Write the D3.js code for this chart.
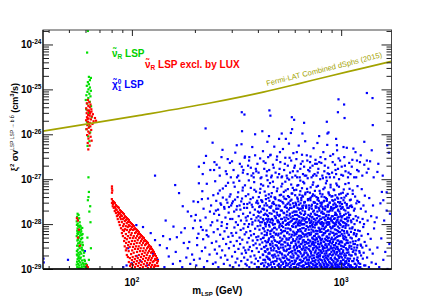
<!DOCTYPE html>
<html>
<head>
<meta charset="utf-8">
<script src="https://cdn.jsdelivr.net/npm/d3@7"></script>
<style>
body{margin:0;background:#fff}
svg{display:block;font-family:"Liberation Sans",Arial,sans-serif}
</style>
</head>
<body>
<svg id="chart" width="436" height="300"></svg>
<script>
// axis ticks
var xMajor = [100, 1000], xExp = ['2', '3'];
var xMinor = [40,50,60,70,80,90,200,300,400,500,600,700,800,900];
var yMajor = [1e-29,1e-28,1e-27,1e-26,1e-25,1e-24], yExp = ['-29','-28','-27','-26','-25','-24'];

// Fermi-LAT combined dSphs limit (2015)
var fermiMass = [37.6, 61.6, 109, 236, 424, 615, 885, 1274, 1755];
var fermiSv = [1.17e-26, 1.7e-26, 2.64e-26, 4.97e-26, 8.7e-26, 1.31e-25, 1.99e-25, 2.97e-25, 4.26e-25];

// sneutrino LSP (allowed)
var greenPts = [[61.6,2.0e-24],[61.1,6.6e-25],
[62.3,1.9e-25],[63.7,1.8e-25],[63.0,1.6e-25],[61.6,1.45e-25],[62.3,1.3e-25],[60.9,1.2e-25],[63.0,1.1e-25],[62.0,1.0e-25],[63.7,9.3e-26],[61.3,8.8e-26],[62.6,8.0e-26],[60.6,7.4e-26],[63.4,7.0e-26],[61.9,6.4e-26],[60.2,5.8e-26],[62.9,5.3e-26],[61.2,4.8e-26],[63.8,4.2e-26],[60.5,3.6e-26],[62.2,3.0e-26],[64.2,2.4e-26],[61.0,1.9e-26],[62.5,1.5e-26],[60.7,1.3e-26],[63.2,1.1e-26],[61.8,9.0e-27],[62.7,7.0e-27],[61.4,5.5e-27],
[62.0,1.1e-27],[62.3,5.2e-28],[62.0,4.0e-28],[61.6,3.4e-28],[63.2,2.5e-28],[62.6,1.9e-28],[63.4,1.1e-28],[61.3,5.0e-29],[63.7,2.9e-29],[62.3,1.6e-29],[60.9,1.2e-29],
[55.0,1.7e-28],[55.6,1.6e-28],[54.7,1.45e-28],[56.0,1.35e-28],[55.3,1.25e-28],[54.5,1.15e-28],[56.3,1.1e-28],
[54.6,9.6e-29],[55.4,9.0e-29],[56.2,8.5e-29],[55.0,8.0e-29],[57.0,7.6e-29],[54.8,7.1e-29],[55.9,6.8e-29],[56.8,6.4e-29],[55.2,6.0e-29],[57.5,5.7e-29],[54.5,5.4e-29],[56.0,5.1e-29],[55.6,4.8e-29],[57.2,4.6e-29],[54.9,4.3e-29],[56.5,4.1e-29],[58.0,3.9e-29],[55.3,3.7e-29],[56.9,3.5e-29],[54.7,3.3e-29],[55.8,3.2e-29],[57.6,3.0e-29],[56.3,2.9e-29],[55.1,2.7e-29],[58.4,2.6e-29],[54.6,2.5e-29],[56.7,2.4e-29],[55.5,2.3e-29],[57.3,2.2e-29],[56.1,2.1e-29],[54.9,2.0e-29],[58.8,1.95e-29],[55.7,1.9e-29],[57.0,1.8e-29],[56.4,1.7e-29],[55.0,1.65e-29],[59.3,1.6e-29],[57.8,1.55e-29],[55.9,1.5e-29],[54.7,1.45e-29],[56.6,1.4e-29],[58.2,1.35e-29],[55.3,1.3e-29],[57.4,1.25e-29],[56.0,1.2e-29],[59.0,1.15e-29],[54.8,1.1e-29],[55.8,1.07e-29],[57.1,1.04e-29],[58.6,1.02e-29],[56.3,1.0e-29],[60.0,1.1e-29],[60.4,1.3e-29],[59.6,1.5e-29],[60.8,1.2e-29],[61.2,1.05e-29],[55.4,6.5e-29],[56.6,5.6e-29],[54.9,6.2e-29],[57.9,4.9e-29],[55.2,4.5e-29],[58.3,3.4e-29],[56.1,3.8e-29],[57.7,2.7e-29],[54.6,2.1e-29],[59.1,2.3e-29],[55.6,1.75e-29],[58.9,1.3e-29],[57.6,1.12e-29],[54.5,1.25e-29],[56.9,8.9e-29],[55.7,7.4e-29],[57.3,6.9e-29],[58.1,6.0e-29],[56.4,9.3e-29],[55.1,1.02e-28],[57.9,8.2e-29]];

// sneutrino LSP excluded by LUX: Higgs funnel
var redFunnel = [[61.6,5.8e-26],[62.6,5.2e-26],[60.9,4.9e-26],[63.4,4.6e-26],[61.9,4.3e-26],[62.9,4.0e-26],[60.5,3.8e-26],[64.0,3.6e-26],[61.3,3.4e-26],[62.3,3.3e-26],[63.2,3.1e-26],[60.8,2.95e-26],[65.1,2.8e-26],[61.8,2.7e-26],[62.8,2.6e-26],[64.4,2.5e-26],[61.0,2.4e-26],[66.6,2.3e-26],[62.1,2.25e-26],[63.7,2.15e-26],[60.4,2.05e-26],[65.6,1.95e-26],[61.6,1.9e-26],[62.9,1.8e-26],[64.8,1.7e-26],[61.2,1.6e-26],[63.3,1.5e-26],[67.4,2.0e-26],[62.2,1.4e-26],[60.7,1.3e-26],[63.9,1.25e-26],[61.9,1.15e-26],[62.7,1.05e-26],[61.1,9.6e-27],[63.5,8.8e-27],[62.0,8.0e-27],[64.2,7.2e-27],[61.5,6.4e-27],[62.8,5.6e-27],[61.9,4.6e-27],[62.4,3.4e-26],[63.0,2.9e-26],[61.4,2.2e-26],[62.5,1.7e-26],[64.1,3.2e-26],
[54.6,1.35e-28],[55.2,1.2e-28],[55.8,7.5e-29],[55.2,5.0e-29],[56.4,3.3e-29],[60.9,1.2e-29],[61.6,1.1e-29]];

// sneutrino LSP excluded by LUX: WW region
var redWW = [[80.3,6.9e-28],[80.3,6.2e-28],[80.6,5.6e-28],[80.3,5.0e-28],
[80.2,3.6e-28],[80.3,2.95e-28],[81.1,3.25e-28],[81.0,2.5e-28],[81.2,2.8e-28],[82.0,3.1e-28],[81.9,2.3e-28],
[82.9,2.95e-28],[83.0,2.4e-28],[82.8,1.95e-28],[83.8,2.65e-28],[83.9,1.76e-28],[83.7,2.15e-28],
[84.7,2.5e-28],[84.6,2.05e-28],[84.8,1.5e-28],[85.7,2.4e-28],[85.8,1.85e-28],[85.6,1.29e-28],[85.7,1.58e-28],
[86.6,2.3e-28],[86.5,1.67e-28],[86.7,1.11e-28],[87.6,2.05e-28],[87.7,1.43e-28],[87.5,9.5e-29],[87.6,1.76e-28],
[88.6,1.95e-28],[88.5,1.29e-28],[88.7,8.1e-29],[88.6,1.58e-28],[89.6,1.85e-28],[89.7,1.5e-28],[89.5,1.11e-28],[89.6,6.3e-29],
[90.6,1.76e-28],[90.5,1.29e-28],[90.7,9.0e-29],[90.6,5.4e-29],[90.4,7.4e-29],[91.6,1.67e-28],[91.7,1.36e-28],[91.5,1.0e-28],[91.6,7.0e-29],[91.8,4.2e-29],
[92.6,1.5e-28],[92.5,1.17e-28],[92.7,7.7e-29],[92.6,4.9e-29],[92.4,3.2e-29],[93.6,1.43e-28],[93.7,1.23e-28],[93.5,9.0e-29],[93.6,6.0e-29],[93.8,3.8e-29],[93.6,2.6e-29],
[94.6,1.36e-28],[94.5,1.05e-28],[94.7,7.4e-29],[94.6,4.6e-29],[94.4,2.9e-29],[94.6,2.05e-29],[95.7,1.29e-28],[95.8,1.11e-28],[95.6,8.6e-29],[95.7,5.4e-29],[95.9,3.4e-29],[95.7,1.85e-29],
[96.7,1.23e-28],[96.6,9.5e-29],[96.8,6.6e-29],[96.7,4.0e-29],[96.5,2.5e-29],[96.7,1.43e-29],[97.8,1.11e-28],[97.7,9.0e-29],[97.9,7.4e-29],[97.8,4.9e-29],[97.6,3.1e-29],[97.8,1.75e-29],[98.0,1.17e-29],
[98.9,1.05e-28],[99.0,7.7e-29],[98.8,5.7e-29],[98.9,3.6e-29],[99.1,2.15e-29],[98.9,1.29e-29],[100,1.0e-28],[100.2,8.6e-29],[99.8,6.3e-29],[100,4.2e-29],[100.3,2.6e-29],[100,1.58e-29],[99.9,1.05e-29],
[101.1,9.5e-29],[101.3,7.4e-29],[101,4.9e-29],[101.2,3.1e-29],[100.9,1.85e-29],[101.1,1.23e-29],[102.2,9.0e-29],[102.4,7.7e-29],[102.1,5.4e-29],[102.3,3.6e-29],[102,2.3e-29],[102.2,1.43e-29],
[103.4,8.1e-29],[103.6,6.3e-29],[103.2,4.2e-29],[103.5,2.8e-29],[103.3,1.67e-29],[103.4,1.11e-29],[104.5,7.7e-29],[104.7,6.6e-29],[104.3,4.9e-29],[104.6,3.2e-29],[104.4,1.94e-29],[104.5,1.29e-29],
[105.7,7.4e-29],[105.9,5.4e-29],[105.5,3.8e-29],[105.8,2.4e-29],[105.6,1.5e-29],[106.8,7.0e-29],[107,6.0e-29],[106.6,4.4e-29],[106.9,2.8e-29],[106.7,1.75e-29],[106.8,1.17e-29],
[108,6.6e-29],[108.2,4.9e-29],[107.8,3.2e-29],[108.1,2.05e-29],[107.9,1.36e-29],[109.2,6.0e-29],[109.4,5.1e-29],[109,3.8e-29],[109.3,2.5e-29],[109.1,1.58e-29],[109.2,1.05e-29],
[110.4,5.7e-29],[110.6,4.2e-29],[110.2,2.9e-29],[110.5,1.85e-29],[110.3,1.23e-29],[111.6,5.4e-29],[111.8,4.6e-29],[111.4,3.4e-29],[111.7,2.15e-29],[111.5,1.43e-29],
[112.9,5.1e-29],[113.1,3.8e-29],[112.7,2.5e-29],[113,1.67e-29],[112.8,1.11e-29],[114.1,4.9e-29],[114.3,4.2e-29],[113.9,2.9e-29],[114.2,1.94e-29],[114,1.29e-29],
[115.4,4.4e-29],[115.6,3.4e-29],[115.2,2.3e-29],[115.5,1.5e-29],[116.7,4.2e-29],[116.9,3.6e-29],[116.5,2.6e-29],[116.8,1.75e-29],[116.6,1.17e-29],
[118,4.0e-29],[118.2,2.9e-29],[117.8,2.05e-29],[118.1,1.36e-29],[119.3,3.8e-29],[119.5,3.1e-29],[119.1,2.3e-29],[119.4,1.58e-29],[119.2,1.05e-29],
[120.6,3.4e-29],[120.8,2.5e-29],[120.4,1.75e-29],[120.7,1.23e-29],[121.9,3.2e-29],[122.1,2.8e-29],[121.7,1.94e-29],[122,1.36e-29],
[123.3,3.1e-29],[123.5,2.3e-29],[123.1,1.58e-29],[123.4,1.11e-29],[124.6,2.8e-29],[124.8,2.4e-29],[124.4,1.75e-29],[124.7,1.23e-29],
[126,2.6e-29],[126.2,1.94e-29],[125.8,1.43e-29],[127.4,2.4e-29],[127.6,2.05e-29],[127.2,1.5e-29],[127.5,1.11e-29],
[128.8,2.15e-29],[129,1.67e-29],[128.6,1.23e-29],[130.2,1.94e-29],[130.4,1.58e-29],[130,1.17e-29],[131.7,1.75e-29],[131.9,1.36e-29],[133.1,1.5e-29],[133.3,1.17e-29]];

// neutralino LSP, below ~230 GeV
var blueLow = [[37.8,1.7e-29],[37.9,1.4e-29],[49.5,1.6e-29],[59.6,2.5e-29],[91,1.1e-29],[94.3,1.2e-29],[99.7,1.34e-29],[105.3,1.95e-29],[129,1.2e-27],[161,7.4e-28],[168,4.9e-28],[209,8.1e-28],[221,2.3e-27],[216,3.6e-28],[185,1.9e-28],[200,1.2e-28],[105,9.5e-29],[113,8.6e-29],[123,6.3e-29],[129,4.4e-29],[141,5.4e-29],[152,4.6e-29],[136,3.4e-29],[147,2.9e-29],[164,5.1e-29],[179,8.1e-29],[196,8.1e-29],[218,7.4e-29],[228,5.7e-29],[205,4.9e-29],[177,3.8e-29],[185,2.9e-29],[96,2.9e-29],
[110,1.5e-29],[118,1.2e-29],[126,2.2e-29],[133,1.6e-29],[143,1.1e-29],[150,1.9e-29],[157,1.3e-29],[162,2.4e-29],[170,1.5e-29],[174,1.1e-29],[182,1.8e-29],[190,1.3e-29],[194,2.1e-29],[198,1.6e-29],[188,4.0e-29],[172,6.5e-29],[158,8.8e-29],[145,1.2e-28],[192,1.5e-28],[175,2.5e-28],[197,3.2e-28]];

// neutralino LSP, 1e-29 to 1e-28 cm3/s
var blueBandA = [[203,1.2e-29],[205,3.4e-29],[208,6.1e-29],[211,1.7e-29],[214,8.6e-29],[216,2.5e-29],[219,4.6e-29],[221,1.1e-29],[224,3.0e-29],[227,7.2e-29],[229,1.5e-29],[232,5.3e-29],[235,2.1e-29],[238,9.4e-29],[241,3.8e-29],[244,1.3e-29],[246,6.6e-29],[249,2.7e-29],
[251,1.4e-29],[253,4.1e-29],[255,2.2e-29],[257,7.7e-29],[259,1.1e-29],[262,3.2e-29],[264,5.8e-29],[266,1.8e-29],[268,9.1e-29],[270,2.6e-29],[273,4.7e-29],[275,1.3e-29],[277,6.9e-29],[279,2.0e-29],[282,3.6e-29],[284,8.2e-29],[286,1.6e-29],[289,5.2e-29],[291,2.9e-29],[294,1.2e-29],[296,4.0e-29],[299,6.3e-29],
[301,1.9e-29],[303,5.5e-29],[305,1.1e-29],[307,3.3e-29],[309,8.4e-29],[311,2.4e-29],[313,1.4e-29],[315,6.4e-29],[317,4.2e-29],[319,1.7e-29],[321,9.6e-29],[323,2.8e-29],[325,1.2e-29],[327,5.0e-29],[329,3.6e-29],[331,7.4e-29],[333,1.5e-29],[335,2.2e-29],[337,4.5e-29],[339,1.0e-29],[341,8.0e-29],[342,3.0e-29],[344,1.8e-29],[346,5.9e-29],[348,2.6e-29],[349,1.3e-29],
[351,2.3e-29],[352,6.6e-29],[354,1.2e-29],[356,3.9e-29],[357,1.6e-29],[359,8.7e-29],[361,2.7e-29],[362,4.9e-29],[364,1.1e-29],[366,3.1e-29],[368,7.0e-29],[369,1.9e-29],[371,5.6e-29],[373,1.4e-29],[375,2.5e-29],[376,9.8e-29],[378,4.3e-29],[380,1.0e-29],[381,3.4e-29],[383,6.0e-29],[385,2.0e-29],[386,1.3e-29],[388,7.9e-29],[390,3.7e-29],[391,1.7e-29],[393,5.1e-29],[395,2.9e-29],[396,1.1e-29],[398,4.4e-29],[399,9.0e-29],
[401,1.5e-29],[402,5.3e-29],[404,2.4e-29],[405,1.1e-29],[407,7.5e-29],[408,3.5e-29],[410,1.8e-29],[411,9.3e-29],[413,4.6e-29],[414,1.3e-29],[416,2.8e-29],[417,6.2e-29],[419,1.0e-29],[420,3.9e-29],[422,2.1e-29],[423,8.1e-29],[425,1.6e-29],[426,5.0e-29],[428,3.1e-29],[429,1.2e-29],[431,6.9e-29],[432,2.5e-29],[434,4.2e-29],[435,1.4e-29],[437,9.9e-29],[438,3.3e-29],[440,1.9e-29],[441,5.7e-29],[443,1.1e-29],[444,2.7e-29],[446,7.3e-29],[447,4.0e-29],[448,1.7e-29],[449,2.2e-29],
[451,1.2e-29],[452,4.8e-29],[453,2.3e-29],[455,8.8e-29],[456,1.6e-29],[457,3.6e-29],[459,6.0e-29],[460,1.0e-29],[461,2.9e-29],[463,1.4e-29],[464,7.1e-29],[466,4.1e-29],[467,2.0e-29],[468,1.1e-29],[470,5.4e-29],[471,3.2e-29],[473,9.7e-29],[474,1.8e-29],[475,2.6e-29],[477,6.5e-29],[478,1.3e-29],[480,4.4e-29],[481,2.1e-29],[483,8.3e-29],[484,1.5e-29],[486,3.4e-29],[487,5.8e-29],[489,1.0e-29],[490,2.5e-29],[492,7.6e-29],[494,1.7e-29],[495,4.0e-29],[497,1.2e-29],[499,3.0e-29],
[501,2.0e-29],[502,6.1e-29],[504,1.3e-29],[505,3.8e-29],[507,9.2e-29],[508,2.4e-29],[510,1.1e-29],[511,5.0e-29],[513,1.6e-29],[514,3.0e-29],[516,7.4e-29],[517,1.2e-29],[519,4.3e-29],[520,2.2e-29],[522,1.0e-29],[523,6.6e-29],[525,1.8e-29],[526,3.5e-29],[528,8.6e-29],[529,1.4e-29],[531,2.7e-29],[533,5.5e-29],[534,1.1e-29],[536,4.0e-29],[537,2.0e-29],[539,7.0e-29],[540,1.5e-29],[542,3.2e-29],[544,9.6e-29],[545,1.2e-29],[547,2.5e-29],[548,4.8e-29],[550,1.7e-29],[552,6.3e-29],[553,1.0e-29],[555,3.7e-29],[557,2.1e-29],[558,8.0e-29],[560,1.3e-29],[561,4.5e-29],[563,2.8e-29],[565,1.6e-29],[566,5.9e-29],[568,1.1e-29],[570,3.3e-29],[571,7.8e-29],[573,1.9e-29],[575,2.4e-29],[576,1.2e-29],[578,5.2e-29],[580,3.9e-29],[581,1.5e-29],[583,9.0e-29],[585,2.2e-29],[586,1.0e-29],[588,4.6e-29],[590,6.8e-29],[591,1.8e-29],[593,3.0e-29],[595,1.3e-29],[597,5.6e-29],[599,2.6e-29],
[601,1.4e-29],[603,4.2e-29],[604,2.3e-29],[606,8.5e-29],[608,1.1e-29],[609,3.4e-29],[611,6.0e-29],[613,1.7e-29],[615,2.9e-29],[616,1.0e-29],[618,5.1e-29],[620,2.0e-29],[622,9.4e-29],[623,1.3e-29],[625,3.9e-29],[627,6.9e-29],[628,2.5e-29],[630,1.2e-29],[632,4.7e-29],[634,1.6e-29],[635,3.1e-29],[637,7.7e-29],[639,1.0e-29],[641,2.2e-29],[642,5.5e-29],[644,1.4e-29],[646,3.6e-29],[648,9.8e-29],[649,1.9e-29],[651,2.7e-29],[653,6.4e-29],[655,1.1e-29],[656,4.3e-29],[658,1.5e-29],[660,3.2e-29],[662,8.2e-29],[663,2.1e-29],[665,1.2e-29],[667,5.3e-29],[669,2.6e-29],[670,1.0e-29],[672,4.0e-29],[674,7.1e-29],[676,1.8e-29],[677,3.0e-29],[679,1.3e-29],[681,5.9e-29],[683,2.3e-29],[684,9.1e-29],[686,1.6e-29],[688,3.7e-29],[690,1.1e-29],[691,6.2e-29],[693,2.0e-29],[695,4.5e-29],[697,1.4e-29],[698,2.8e-29],[700,7.5e-29],
[702,1.2e-29],[703,3.3e-29],[705,1.8e-29],[707,5.7e-29],[709,1.0e-29],[711,2.5e-29],[713,8.8e-29],[714,4.1e-29],[716,1.4e-29],[718,2.2e-29],[720,6.5e-29],[722,1.1e-29],[724,3.5e-29],[726,1.7e-29],[727,9.5e-29],[729,4.8e-29],[731,1.3e-29],[733,2.7e-29],[735,7.2e-29],[737,1.0e-29],[739,3.8e-29],[740,2.0e-29],[742,5.4e-29],[744,1.5e-29],[746,3.0e-29],[748,8.4e-29],[750,1.2e-29],[752,4.4e-29],[753,2.4e-29],[755,1.6e-29],[757,6.1e-29],[759,3.2e-29],[761,1.1e-29],[763,9.9e-29],[765,2.1e-29],[766,4.6e-29],[768,1.3e-29],[770,2.9e-29],[772,7.0e-29],[774,1.8e-29],[776,3.6e-29],[778,1.0e-29],[779,5.3e-29],[781,2.3e-29],[783,1.4e-29],[785,8.0e-29],[787,3.1e-29],[789,1.2e-29],[791,4.9e-29],[792,1.9e-29],[794,6.7e-29],[796,2.6e-29],[798,1.1e-29],[799,3.9e-29],
[801,1.6e-29],[803,4.4e-29],[805,2.3e-29],[807,7.9e-29],[809,1.1e-29],[811,3.3e-29],[813,5.6e-29],[815,1.4e-29],[817,2.8e-29],[819,9.0e-29],[821,1.0e-29],[823,4.1e-29],[825,1.9e-29],[827,6.3e-29],[829,1.2e-29],[831,3.0e-29],[833,2.2e-29],[835,8.3e-29],[837,1.5e-29],[839,4.7e-29],[841,1.0e-29],[843,3.6e-29],[845,6.9e-29],[847,1.8e-29],[849,2.5e-29],[851,1.3e-29],[853,5.2e-29],[855,3.2e-29],[857,1.1e-29],[859,9.6e-29],[861,2.0e-29],[863,4.2e-29],[865,1.6e-29],[867,7.3e-29],[869,2.7e-29],[871,1.2e-29],[873,5.0e-29],[875,3.5e-29],[877,1.0e-29],[879,2.1e-29],[881,6.0e-29],[883,1.4e-29],[885,3.9e-29],[887,8.7e-29],[889,1.7e-29],[891,2.9e-29],[894,1.1e-29],[897,4.6e-29],
[901,1.3e-29],[903,3.7e-29],[905,2.0e-29],[908,6.4e-29],[910,1.1e-29],[912,2.6e-29],[915,8.9e-29],[917,4.5e-29],[919,1.5e-29],[922,3.0e-29],[924,1.0e-29],[926,5.6e-29],[929,2.3e-29],[931,1.7e-29],[933,7.6e-29],[936,3.4e-29],[938,1.2e-29],[940,4.9e-29],[943,2.1e-29],[945,9.8e-29],[947,1.4e-29],[950,3.1e-29],[952,6.1e-29],[954,1.0e-29],[957,2.4e-29],[959,4.3e-29],[961,1.6e-29],[964,7.0e-29],[966,2.8e-29],[968,1.2e-29],[971,5.4e-29],[973,3.6e-29],[975,1.9e-29],[978,1.1e-29],[980,8.1e-29],[982,2.5e-29],[985,4.0e-29],[987,1.3e-29],[989,6.7e-29],[992,2.2e-29],[995,1.5e-29],[998,3.3e-29],
[1002,1.4e-29],[1004,4.1e-29],[1007,2.2e-29],[1010,7.3e-29],[1012,1.0e-29],[1015,3.2e-29],[1018,5.5e-29],[1020,1.6e-29],[1023,2.6e-29],[1026,9.0e-29],[1029,1.2e-29],[1031,4.6e-29],[1034,2.0e-29],[1037,6.2e-29],[1040,1.3e-29],[1042,3.5e-29],[1045,1.8e-29],[1048,8.2e-29],[1051,1.1e-29],[1054,2.9e-29],[1056,5.0e-29],[1059,1.5e-29],[1062,3.8e-29],[1065,2.3e-29],[1067,6.9e-29],[1070,1.0e-29],[1073,4.3e-29],[1076,1.7e-29],[1079,2.7e-29],[1082,9.4e-29],[1085,1.3e-29],[1088,5.8e-29],[1092,2.1e-29],[1096,3.3e-29],
[1102,1.2e-29],[1106,3.9e-29],[1110,2.0e-29],[1114,6.7e-29],[1117,1.1e-29],[1121,2.8e-29],[1125,4.8e-29],[1129,1.5e-29],[1133,8.5e-29],[1137,2.4e-29],[1141,1.0e-29],[1145,3.6e-29],[1149,5.9e-29],[1152,1.7e-29],[1156,3.0e-29],[1160,1.3e-29],[1164,7.4e-29],[1168,2.2e-29],[1172,4.2e-29],[1176,1.1e-29],[1180,2.6e-29],[1185,6.0e-29],[1190,1.6e-29],[1196,3.4e-29],
[1203,1.5e-29],[1209,4.4e-29],[1215,1.1e-29],[1221,2.5e-29],[1227,7.0e-29],[1233,1.3e-29],[1239,3.5e-29],[1245,2.0e-29],[1251,5.5e-29],[1257,1.0e-29],[1263,3.0e-29],[1269,1.7e-29],[1275,8.6e-29],[1281,2.3e-29],[1288,1.2e-29],[1295,4.0e-29],
[1305,1.2e-29],[1318,3.3e-29],[1330,1.8e-29],[1344,6.0e-29],[1357,1.1e-29],[1370,2.7e-29],[1384,4.7e-29],[1398,1.4e-29],[1415,2.2e-29],[1436,8.0e-29],
[1465,1.3e-29],[1490,3.0e-29],[1520,1.1e-29],[1555,4.8e-29],[1590,1.6e-29],[1625,2.4e-29],[1665,1.0e-29],[1700,3.6e-29]];

// neutralino LSP, dense core 1e-29 to 1e-28 cm3/s
var blueCoreA = [[421,1.35e-29],[423,4.9e-29],[424,2.05e-29],[427,7.9e-29],[428,1.15e-29],[430,3.05e-29],[431,5.7e-29],[433,1.6e-29],[435,2.4e-29],[436,8.9e-29],[439,1.02e-29],[440,3.9e-29],[442,6.4e-29],[444,1.85e-29],[445,2.8e-29],[448,1.3e-29],[450,4.4e-29],[452,9.5e-29],[453,1.7e-29],[455,2.2e-29],[458,6.9e-29],[459,3.4e-29],[461,1.25e-29],[463,5.2e-29],[464,2.6e-29],[467,1.05e-29],[469,7.6e-29],[470,3.7e-29],[472,1.45e-29],[474,2.0e-29],[476,5.0e-29],[478,8.2e-29],[479,2.9e-29],[482,1.1e-29],[484,4.2e-29],[486,1.9e-29],[488,6.1e-29],[491,1.5e-29],[493,3.3e-29],[496,2.35e-29],
[500,5.6e-29],[502,1.2e-29],[503,2.8e-29],[506,8.4e-29],[507,1.7e-29],[509,4.1e-29],[511,2.3e-29],[512,1.05e-29],[515,6.2e-29],[516,3.5e-29],[518,1.45e-29],[521,9.1e-29],[522,2.1e-29],[524,4.7e-29],[527,1.3e-29],[528,3.0e-29],[530,7.0e-29],[532,1.75e-29],[535,2.55e-29],[537,5.3e-29],[538,1.1e-29],[541,3.9e-29],[543,8.0e-29],[544,1.9e-29],[546,1.35e-29],[549,4.5e-29],[551,2.7e-29],[554,6.6e-29],[555,1.2e-29],[557,3.4e-29],[559,1.6e-29],[562,9.7e-29],[564,2.3e-29],[566,4.9e-29],[569,1.4e-29],[571,2.9e-29],[573,7.3e-29],[574,1.05e-29],[577,3.8e-29],[579,1.8e-29],[582,5.8e-29],[584,2.5e-29],[586,1.3e-29],[589,8.7e-29],[590,4.2e-29],[592,2.0e-29],[594,1.1e-29],[596,3.2e-29],[598,6.4e-29],[599,1.55e-29],
[601,2.7e-29],[602,1.1e-29],[604,5.9e-29],[606,3.7e-29],[607,1.5e-29],[609,8.9e-29],[610,2.2e-29],[612,4.6e-29],[614,1.25e-29],[615,6.6e-29],[617,3.1e-29],[619,1.75e-29],[621,2.5e-29],[622,7.4e-29],[624,1.05e-29],[626,4.1e-29],[627,1.9e-29],[629,5.5e-29],[631,3.3e-29],[633,1.35e-29],[634,9.3e-29],[636,2.4e-29],[638,4.8e-29],[640,1.6e-29],[641,3.6e-29],[643,6.9e-29],[645,1.15e-29],[647,2.8e-29],[648,5.1e-29],[650,1.45e-29],[652,8.1e-29],[654,3.9e-29],[655,2.0e-29],[657,1.2e-29],[659,6.0e-29],[661,2.9e-29],[662,4.4e-29],[664,1.7e-29],[666,9.9e-29],[668,2.3e-29],[669,1.05e-29],[671,3.5e-29],[673,5.8e-29],[675,1.4e-29],[676,2.6e-29],[678,7.7e-29],[680,4.0e-29],[682,1.8e-29],[685,3.0e-29],[687,1.1e-29],[689,5.3e-29],[692,2.1e-29],[694,8.5e-29],[696,1.3e-29],[699,3.8e-29],
[701,1.6e-29],[703,6.3e-29],[704,2.7e-29],[706,1.15e-29],[708,4.3e-29],[710,9.0e-29],[712,1.9e-29],[713,3.2e-29],[715,1.35e-29],[717,5.9e-29],[719,2.4e-29],[721,7.6e-29],[723,1.05e-29],[725,3.7e-29],[727,2.0e-29],[728,5.0e-29],[730,1.5e-29],[732,8.6e-29],[734,2.9e-29],[736,1.2e-29],[738,4.6e-29],[739,6.8e-29],[741,1.75e-29],[743,3.4e-29],[745,1.05e-29],[747,2.3e-29],[749,5.5e-29],[751,9.6e-29],[752,1.4e-29],[754,3.9e-29],[756,2.6e-29],[758,7.1e-29],[760,1.25e-29],[762,4.9e-29],[764,1.85e-29],[767,3.0e-29],[769,1.1e-29],[771,6.1e-29],[773,2.2e-29],[775,4.1e-29],[777,1.55e-29],[780,8.3e-29],[782,2.7e-29],[784,1.0e-29],[786,5.2e-29],[788,3.5e-29],[790,1.65e-29],[792,7.4e-29],[794,2.05e-29],[795,1.3e-29],[797,4.5e-29],[799,2.5e-29],[756,1.15e-29],[733,4.0e-29],[779,1.95e-29],
[802,3.7e-29],[804,1.2e-29],[806,6.7e-29],[808,2.3e-29],[810,1.55e-29],[812,4.7e-29],[814,9.2e-29],[816,1.05e-29],[818,3.1e-29],[820,1.85e-29],[822,5.8e-29],[824,2.5e-29],[826,1.3e-29],[828,7.7e-29],[830,4.0e-29],[832,1.65e-29],[834,2.9e-29],[836,1.1e-29],[838,6.3e-29],[840,3.4e-29],[842,2.0e-29],[844,1.4e-29],[846,8.8e-29],[848,4.4e-29],[850,2.25e-29],[852,1.15e-29],[854,5.3e-29],[856,3.0e-29],[858,1.7e-29],[860,7.0e-29],[862,2.6e-29],[864,1.25e-29],[866,4.8e-29],[868,1.9e-29],[870,3.6e-29],[873,9.8e-29],[875,1.45e-29],[877,5.9e-29],[879,2.7e-29],[882,1.05e-29],[884,4.2e-29],[886,2.15e-29],[888,1.35e-29],[890,6.8e-29],[892,3.2e-29],[894,1.75e-29],[896,8.0e-29],[898,2.4e-29],[899,1.2e-29],[861,1.0e-29],
[902,5.0e-29],[904,1.6e-29],[906,2.9e-29],[909,8.3e-29],[911,1.2e-29],[913,4.0e-29],[915,2.1e-29],[918,6.4e-29],[920,1.4e-29],[922,3.4e-29],[925,1.05e-29],[927,2.5e-29],[929,9.1e-29],[931,4.6e-29],[934,1.8e-29],[936,1.3e-29],[938,6.0e-29],[941,2.8e-29],[943,1.1e-29],[945,3.8e-29],[948,1.65e-29],[950,7.4e-29],[953,2.3e-29],[955,1.25e-29],[957,5.2e-29],[960,3.1e-29],[962,1.5e-29],[965,8.8e-29],[967,2.0e-29],[969,4.3e-29],[972,1.15e-29],[974,2.65e-29],[977,6.6e-29],[979,1.75e-29],[981,3.6e-29],[984,1.05e-29],[986,5.5e-29],[989,2.2e-29],[991,1.35e-29],[994,9.5e-29],[996,4.1e-29],[998,1.9e-29],[932,1.05e-29],[958,1.1e-29],[983,1.3e-29],
[1001,2.8e-29],[1004,1.15e-29],[1006,6.0e-29],[1009,1.8e-29],[1011,3.9e-29],[1014,1.3e-29],[1016,8.6e-29],[1019,2.4e-29],[1022,1.05e-29],[1024,4.9e-29],[1027,1.6e-29],[1030,3.1e-29],[1032,7.0e-29],[1035,1.25e-29],[1038,2.2e-29],[1041,5.3e-29],[1043,1.45e-29],[1046,3.5e-29],[1049,1.1e-29],[1052,9.2e-29],[1055,2.0e-29],[1058,4.4e-29],[1061,1.35e-29],[1064,2.7e-29],[1067,1.05e-29],[1070,6.4e-29],[1073,1.7e-29],[1076,3.8e-29],[1080,1.2e-29],[1083,2.35e-29],[1087,5.7e-29],[1090,1.5e-29],[1094,3.0e-29],[1097,1.1e-29],[1099,8.0e-29],
[1103,1.7e-29],[1108,5.0e-29],[1113,1.2e-29],[1118,3.2e-29],[1123,2.0e-29],[1128,8.0e-29],[1133,1.1e-29],[1138,4.1e-29],[1143,1.5e-29],[1148,2.6e-29],[1153,6.3e-29],[1158,1.05e-29],[1163,3.6e-29],[1168,1.3e-29],[1173,2.1e-29],[1179,5.4e-29],[1185,1.2e-29],[1191,3.0e-29],[1197,1.8e-29],[1204,7.2e-29],[1211,1.35e-29],[1218,4.6e-29],[1226,2.3e-29],[1235,1.1e-29],[1244,3.3e-29]];

// neutralino LSP, 1e-28 to 1e-27 cm3/s
var blueBandB = [[202,1.6e-28],[207,3.1e-28],[212,1.2e-28],[217,5.4e-28],[220,2.2e-28],[225,1.4e-28],[228,7.9e-28],[231,3.7e-28],[236,1.9e-28],[239,2.6e-28],[242,1.1e-28],[245,4.4e-28],[247,1.7e-28],[250,9.0e-28],
[252,2.0e-28],[256,1.2e-28],[258,4.8e-28],[261,1.6e-28],[265,2.9e-28],[269,1.1e-28],[272,6.2e-28],[276,2.4e-28],[280,1.4e-28],[283,3.5e-28],[285,1.0e-28],[288,8.3e-28],[290,1.8e-28],[293,4.1e-28],[295,1.3e-28],[298,2.6e-28],
[302,1.3e-28],[304,3.2e-28],[308,1.9e-28],[310,6.8e-28],[314,1.1e-28],[318,2.5e-28],[320,4.0e-28],[324,1.5e-28],[326,9.2e-28],[330,2.1e-28],[332,1.2e-28],[336,3.7e-28],[338,5.6e-28],[340,1.7e-28],[343,2.8e-28],[345,1.0e-28],[347,7.3e-28],[350,1.4e-28],
[353,1.2e-28],[355,2.3e-28],[358,1.5e-28],[360,4.6e-28],[363,1.0e-28],[365,3.0e-28],[367,1.8e-28],[370,6.4e-28],[372,1.3e-28],[374,2.7e-28],[377,1.1e-28],[379,3.9e-28],[382,1.6e-28],[384,8.6e-28],[387,2.1e-28],[389,1.2e-28],[392,5.3e-28],[394,1.4e-28],[397,3.3e-28],[400,1.9e-28],
[401,2.9e-28],[403,1.2e-28],[406,1.8e-28],[409,5.0e-28],[412,1.4e-28],[415,3.4e-28],[418,1.1e-28],[421,2.2e-28],[424,7.2e-28],[427,1.6e-28],[430,2.6e-28],[433,1.0e-28],[436,4.3e-28],[439,1.3e-28],[442,2.0e-28],[445,9.5e-28],[447,1.5e-28],[449,3.8e-28],[411,6.1e-28],[426,1.2e-28],[434,1.7e-28],[444,1.1e-28],
[450,1.3e-28],[454,2.4e-28],[458,1.1e-28],[462,4.1e-28],[465,1.7e-28],[469,2.9e-28],[472,1.2e-28],[476,6.7e-28],[479,1.9e-28],[482,1.0e-28],[485,3.6e-28],[488,1.4e-28],[491,2.2e-28],[493,5.4e-28],[496,1.6e-28],[498,1.1e-28],[457,8.2e-28],[467,1.3e-28],[474,3.1e-28],[481,1.5e-28],[489,2.6e-28],[495,1.2e-28],
[500,1.2e-28],[503,2.6e-28],[506,1.5e-28],[509,4.4e-28],[512,1.0e-28],[515,2.0e-28],[518,6.9e-28],[521,1.3e-28],[524,3.1e-28],[527,1.1e-28],[530,1.8e-28],[532,5.2e-28],[535,1.4e-28],[538,2.4e-28],[541,8.8e-28],[543,1.2e-28],[546,3.6e-28],[549,1.6e-28],[551,1.0e-28],[554,2.8e-28],[556,6.0e-28],[559,1.3e-28],[562,2.1e-28],[564,4.0e-28],[567,1.1e-28],[569,1.7e-28],[572,3.3e-28],[574,1.4e-28],[577,7.6e-28],[579,2.3e-28],[582,1.2e-28],[584,4.8e-28],[587,1.5e-28],[589,2.9e-28],[592,1.0e-28],[594,1.9e-28],[596,5.7e-28],[598,1.3e-28],
[602,1.6e-28],[605,3.0e-28],[607,1.1e-28],[610,5.8e-28],[612,1.9e-28],[614,1.3e-28],[617,3.9e-28],[619,2.3e-28],[621,1.0e-28],[624,7.4e-28],[626,1.5e-28],[629,2.7e-28],[631,1.2e-28],[633,4.5e-28],[636,1.8e-28],[638,9.3e-28],[640,1.1e-28],[643,2.2e-28],[645,3.4e-28],[647,1.4e-28],[650,6.3e-28],[652,1.0e-28],[654,2.0e-28],[657,4.1e-28],[659,1.3e-28],[661,2.6e-28],[664,1.6e-28],[666,8.1e-28],[668,1.2e-28],[671,3.1e-28],[673,1.7e-28],[675,5.0e-28],[678,1.1e-28],[680,2.4e-28],[685,1.4e-28],[694,3.6e-28],
[701,2.1e-28],[704,1.2e-28],[708,3.7e-28],[710,1.5e-28],[715,6.6e-28],[717,1.1e-28],[721,2.5e-28],[723,1.4e-28],[728,4.2e-28],[730,1.0e-28],[734,1.9e-28],[736,8.5e-28],[741,1.3e-28],[743,3.0e-28],[747,1.7e-28],[749,5.5e-28],[754,1.2e-28],[756,2.3e-28],[760,1.0e-28],[762,4.0e-28],[767,1.6e-28],[769,2.8e-28],[773,1.1e-28],[775,7.1e-28],[780,1.5e-28],[782,3.3e-28],[786,1.2e-28],[788,2.0e-28],[793,4.8e-28],[795,1.3e-28],[797,2.5e-28],[800,1.0e-28],
[802,1.3e-28],[806,2.7e-28],[810,1.1e-28],[814,4.6e-28],[818,1.7e-28],[822,1.0e-28],[826,3.2e-28],[830,1.4e-28],[834,6.5e-28],[838,2.1e-28],[842,1.2e-28],[846,3.8e-28],[850,1.6e-28],[854,9.2e-28],[858,1.1e-28],[862,2.4e-28],[866,1.4e-28],[870,5.1e-28],[874,1.9e-28],[878,1.0e-28],[882,3.0e-28],[886,1.3e-28],[890,7.5e-28],[893,2.2e-28],[896,1.2e-28],[899,4.1e-28],[812,1.9e-28],[868,1.1e-28],
[902,1.5e-28],[907,3.4e-28],[911,1.1e-28],[916,2.2e-28],[920,5.9e-28],[925,1.3e-28],[930,2.9e-28],[934,1.0e-28],[939,4.4e-28],[944,1.7e-28],[948,8.0e-28],[953,1.2e-28],[958,2.5e-28],[962,1.4e-28],[967,3.7e-28],[972,1.1e-28],[976,6.8e-28],[981,1.9e-28],[986,1.0e-28],[990,3.1e-28],[994,1.5e-28],[997,4.8e-28],[935,1.6e-28],[965,2.0e-28],
[1003,1.2e-28],[1009,2.8e-28],[1014,1.5e-28],[1019,5.0e-28],[1025,1.1e-28],[1030,2.1e-28],[1036,3.9e-28],[1041,1.3e-28],[1047,7.8e-28],[1052,1.7e-28],[1058,1.0e-28],[1063,2.6e-28],[1069,1.4e-28],[1074,4.7e-28],[1080,1.2e-28],[1086,2.3e-28],[1091,1.6e-28],[1097,6.1e-28],
[1104,1.6e-28],[1112,3.5e-28],[1119,1.1e-28],[1127,2.4e-28],[1135,5.6e-28],[1143,1.3e-28],[1151,2.0e-28],[1158,1.0e-28],[1166,4.1e-28],[1174,1.5e-28],[1182,2.9e-28],[1189,1.2e-28],[1197,7.0e-28],
[1206,1.4e-28],[1218,3.1e-28],[1230,1.1e-28],[1242,2.2e-28],[1254,6.0e-28],[1266,1.3e-28],[1278,2.6e-28],[1286,1.0e-28],[1298,4.3e-28],
[1310,1.9e-28],[1338,1.2e-28],[1362,3.8e-28],[1391,1.5e-28],[1420,2.6e-28],[1446,1.1e-28],
[1478,1.4e-28],[1540,2.9e-28],[1605,1.2e-28],[1650,5.1e-28],[1710,1.7e-28],[1565,5.2e-28],[1590,3.4e-28],[1650,2.0e-28]];

// neutralino LSP, dense core 1e-28 to 5e-28 cm3/s
var blueCoreB = [[402,1.5e-28],[406,2.4e-28],[410,1.1e-28],[414,1.9e-28],[419,3.3e-28],[423,1.3e-28],[428,2.1e-28],[432,1.05e-28],[437,2.9e-28],[441,1.6e-28],[446,1.2e-28],[451,4.6e-28],[455,1.75e-28],[460,1.25e-28],[464,2.5e-28],[469,1.05e-28],[474,2.0e-28],[480,3.9e-28],[486,1.35e-28],[493,1.8e-28],
[501,2.2e-28],[505,1.1e-28],[509,1.6e-28],[513,3.3e-28],[517,1.3e-28],[521,2.0e-28],[526,1.05e-28],[530,4.1e-28],[534,1.75e-28],[539,1.2e-28],[543,2.6e-28],[548,1.4e-28],[552,1.9e-28],[557,1.05e-28],[561,3.0e-28],[566,1.55e-28],[570,2.3e-28],[575,1.15e-28],[580,4.8e-28],[585,1.8e-28],[590,1.3e-28],[595,2.5e-28],
[600,1.05e-28],[604,1.9e-28],[608,2.8e-28],[612,1.25e-28],[616,1.6e-28],[620,3.6e-28],[624,1.1e-28],[628,2.1e-28],[632,1.45e-28],[636,1.05e-28],[640,2.9e-28],[644,1.7e-28],[648,1.2e-28],[652,4.3e-28],[656,2.3e-28],[660,1.35e-28],[664,1.0e-28],[668,3.1e-28],[672,1.9e-28],[676,1.3e-28],[681,2.6e-28],[686,1.1e-28],[691,5.2e-28],[697,1.6e-28],
[701,1.3e-28],[705,2.3e-28],[709,1.05e-28],[713,3.4e-28],[717,1.7e-28],[721,1.2e-28],[725,2.7e-28],[729,1.45e-28],[733,4.6e-28],[737,1.1e-28],[741,2.0e-28],[745,1.3e-28],[750,3.0e-28],[754,1.6e-28],[758,1.05e-28],[762,2.4e-28],[766,1.35e-28],[770,1.9e-28],[775,3.8e-28],[779,1.15e-28],[784,2.2e-28],[789,1.5e-28],[794,1.05e-28],[798,2.9e-28],
[803,1.8e-28],[807,1.1e-28],[811,3.0e-28],[815,1.4e-28],[819,2.2e-28],[824,1.05e-28],[828,1.7e-28],[832,4.0e-28],[837,1.25e-28],[841,2.5e-28],[845,1.5e-28],[850,1.05e-28],[854,3.3e-28],[859,1.9e-28],[863,1.3e-28],[868,2.7e-28],[872,1.6e-28],[877,1.1e-28],[881,4.4e-28],[886,2.0e-28],[891,1.35e-28],[896,2.4e-28],
[903,1.2e-28],[908,2.0e-28],[912,1.5e-28],[917,3.3e-28],[922,1.05e-28],[927,2.3e-28],[932,1.35e-28],[937,1.8e-28],[942,2.7e-28],[947,1.1e-28],[952,1.6e-28],[957,3.9e-28],[962,1.25e-28],[968,2.1e-28],[973,1.45e-28],[978,1.05e-28],[984,2.9e-28],[989,1.7e-28],[994,1.2e-28],[999,2.2e-28],
[1005,1.4e-28],[1012,2.3e-28],[1019,1.1e-28],[1026,3.4e-28],[1033,1.6e-28],[1040,1.05e-28],[1048,2.0e-28],[1056,1.3e-28],[1064,2.8e-28],[1072,1.15e-28],[1081,1.8e-28],[1090,1.4e-28],[1102,2.5e-28],[1115,1.2e-28]];

// neutralino LSP, 2e-28 to 1e-27 cm3/s (upper part of the cloud)
var blueMidB = [[253,3.3e-28],[258,2.1e-28],[263,5.6e-28],[267,2.7e-28],[272,3.9e-28],[277,2.2e-28],[281,7.1e-28],[286,3.0e-28],[291,2.4e-28],[296,4.6e-28],[301,2.9e-28],[306,8.4e-28],[311,3.5e-28],[316,2.1e-28],[322,5.1e-28],[327,2.6e-28],[333,3.2e-28],[339,6.5e-28],[344,2.3e-28],[350,4.2e-28],[356,2.8e-28],[362,9.4e-28],[369,3.6e-28],[377,2.4e-28],[385,5.8e-28],[393,3.0e-28],
[404,4.0e-28],[409,2.5e-28],[414,7.7e-28],[420,3.1e-28],[425,2.2e-28],[431,5.3e-28],[437,3.6e-28],[443,2.6e-28],[448,6.9e-28],[454,3.3e-28],[460,2.3e-28],[466,4.9e-28],[472,8.8e-28],[478,2.8e-28],[484,3.9e-28],[490,2.2e-28],[496,6.2e-28],[503,3.4e-28],[509,2.5e-28],[516,4.5e-28],[523,7.9e-28],[529,2.9e-28],[536,3.7e-28],[543,5.6e-28],[550,2.3e-28],[557,4.2e-28],[564,9.8e-28],[571,2.7e-28],[579,3.5e-28],[587,6.4e-28],[595,2.4e-28],
[603,4.4e-28],[610,2.6e-28],[617,7.2e-28],[624,3.2e-28],[631,2.2e-28],[638,5.4e-28],[645,3.8e-28],[652,2.5e-28],[659,8.7e-28],[666,3.0e-28],[673,4.6e-28],[680,2.3e-28],[687,6.1e-28],[694,3.4e-28],[702,2.6e-28],[709,5.0e-28],[716,3.9e-28],[724,2.2e-28],[731,7.5e-28],[739,3.1e-28],[747,4.3e-28],[755,2.5e-28],[763,6.8e-28],[771,3.5e-28],[780,2.3e-28],[789,5.5e-28],[797,3.0e-28],
[806,4.1e-28],[814,2.4e-28],[822,6.0e-28],[830,3.3e-28],[838,2.2e-28],[846,8.1e-28],[855,3.6e-28],[863,2.6e-28],[872,4.8e-28],[881,3.0e-28],[890,6.6e-28],[899,2.3e-28],[908,4.2e-28],[917,2.7e-28],[926,5.7e-28],[936,3.5e-28],[946,2.4e-28],[956,7.3e-28],[967,3.1e-28],[978,4.6e-28],[990,2.5e-28],
[1003,3.8e-28],[1016,2.4e-28],[1029,5.9e-28],[1042,3.0e-28],[1056,4.3e-28],[1071,2.3e-28],[1086,8.2e-28],[1101,3.4e-28],[1118,2.6e-28],[1136,4.7e-28],[1160,2.2e-28],[1195,3.3e-28]];

// neutralino LSP, 1e-27 to 1e-26 cm3/s
var blueBandC = [[209,1.9e-27],[218,1.3e-27],[226,3.3e-27],[237,1.6e-27],[248,2.4e-27],[254,2.1e-27],[263,1.2e-27],[271,4.5e-27],[281,1.5e-27],[287,2.8e-27],[297,1.1e-27],
[306,1.6e-27],[312,3.9e-27],[322,1.2e-27],[328,2.2e-27],[334,6.0e-27],[339,1.4e-27],[346,3.0e-27],[357,1.3e-27],[363,2.6e-27],[370,1.8e-27],[376,5.2e-27],[382,1.1e-27],[388,3.4e-27],[393,1.5e-27],[398,2.2e-27],
[403,1.4e-27],[410,2.9e-27],[416,1.1e-27],[423,4.2e-27],[429,1.7e-27],[435,2.3e-27],[440,1.2e-27],[444,6.8e-27],[448,3.1e-27],[453,1.6e-27],[460,3.5e-27],[466,1.2e-27],[472,2.1e-27],[479,5.3e-27],[486,1.4e-27],[492,2.7e-27],[497,1.1e-27],
[505,1.3e-27],[512,2.4e-27],[519,1.1e-27],[527,4.7e-27],[534,1.6e-27],[541,3.0e-27],[549,1.2e-27],[556,2.0e-27],[563,6.2e-27],[570,1.4e-27],[577,2.6e-27],[584,1.1e-27],[591,3.8e-27],[597,1.8e-27],
[604,1.2e-27],[611,2.8e-27],[619,1.5e-27],[627,5.6e-27],[634,1.1e-27],[642,2.2e-27],[650,3.5e-27],[657,1.3e-27],[665,1.9e-27],[673,7.0e-27],[681,1.2e-27],[689,2.6e-27],[696,1.6e-27],
[706,1.5e-27],[714,3.2e-27],[722,1.1e-27],[730,2.0e-27],[738,4.9e-27],[746,1.3e-27],[754,2.7e-27],[762,1.2e-27],[770,6.4e-27],[778,1.7e-27],[786,2.4e-27],[794,1.0e-27],
[804,2.3e-27],[813,1.2e-27],[822,4.0e-27],[831,1.5e-27],[840,2.8e-27],[849,1.1e-27],[858,5.8e-27],[867,1.8e-27],[876,1.3e-27],[888,3.3e-27],
[905,1.4e-27],[915,3.6e-27],[925,1.1e-27],[935,2.1e-27],[946,1.3e-27],[956,4.4e-27],[966,1.7e-27],[977,1.0e-27],[988,2.6e-27],
[1006,1.9e-27],[1021,1.2e-27],[1035,3.1e-27],[1049,1.5e-27],[1064,5.0e-27],[1078,1.1e-27],[1093,2.3e-27],
[1108,1.3e-27],[1131,2.7e-27],[1154,1.1e-27],[1171,4.0e-27],[1192,1.6e-27],[1212,1.5e-27],[1240,3.4e-27],[1262,1.2e-27],[1290,2.1e-27],
[1325,1.4e-27],[1375,2.5e-27],[1430,1.1e-27],[1505,2.2e-27],[1580,1.2e-27],[1690,3.9e-27],
[243,6.5e-27],[317,5.7e-27],[347,3.2e-27],[364,3.1e-27],[268,3.1e-27],[294,2.3e-27],[247,1.6e-27],[335,1.9e-27],[380,1.35e-27],
[954,5.7e-27],[1026,5.2e-27],[1144,4.8e-27],[1290,6.8e-27],[1400,4.4e-27],[1190,2.6e-27],[1327,2.6e-27],[710,2.4e-27],[765,2.2e-27],[614,4.0e-27],[685,3.4e-27],[510,4.0e-27],[458,3.4e-27],[1490,1.45e-27],[1660,5.7e-27],
[262,1.8e-27],[284,1.3e-27],[301,2.5e-27],[318,1.1e-27],[341,1.6e-27],[359,2.0e-27],[373,1.2e-27],[391,1.7e-27],[412,1.05e-27],[426,2.5e-27],[442,1.5e-27],[463,1.1e-27],[476,1.8e-27],[494,3.2e-27],[508,1.7e-27],[522,1.15e-27],[538,2.2e-27],[553,1.05e-27],[567,3.0e-27],[588,1.5e-27],[601,2.0e-27],[616,1.1e-27],[638,1.7e-27],[654,2.5e-27],[670,1.2e-27],[692,1.05e-27],[711,1.8e-27],[734,1.2e-27],[751,2.2e-27],[773,1.4e-27],[797,3.1e-27],[818,1.05e-27],[835,2.0e-27],[862,1.35e-27],[883,1.1e-27],[911,2.4e-27],[940,1.6e-27],[972,2.9e-27],[1002,1.25e-27],[1042,2.0e-27],[1085,1.4e-27],[1124,1.9e-27],[1180,1.1e-27],[1230,2.4e-27],[1350,1.7e-27]];

// neutralino LSP, highest points
var blueTop = [[335,3.1e-26],[345,2.75e-26],[454,3.4e-26],[459,2.6e-26],[581,2.4e-26],[596,2.1e-26],[665,1.8e-26],[854,1.9e-26],[971,6.0e-26],[965,3.1e-26],[1033,4.6e-26],[1038,2.3e-26],[1327,8.3e-26],[1412,6.4e-26],[1416,1.6e-26],[336,1.17e-26],[388,1.0e-26],[420,1.17e-26],[452,9.1e-27],[520,1.04e-26],[583,1.3e-26],[575,1.07e-26],[653,1.04e-26],[785,9.1e-27],[860,1.04e-26],[870,1.1e-26],[946,7.9e-27],[544,7.9e-27],[505,7.9e-27],[225,1.35e-26]];

var bluePts = blueLow.concat(blueBandA, blueCoreA, blueBandB, blueCoreB, blueMidB, blueBandC, blueTop);
var redPts = redFunnel.concat(redWW);

var W = 436, H = 300, L = 43, R = 391.5, T = 30, B = 269;
var svg = d3.select('#chart');
var x = d3.scaleLog().domain([37.6, 1740]).range([L, R]);
var y = d3.scaleLog().domain([1e-29, 2.1e-24]).range([B, T]);

svg.append('rect').attr('width', W).attr('height', H).attr('fill', '#fff');
svg.append('clipPath').attr('id', 'clip').append('rect')
    .attr('x', L).attr('y', T).attr('width', R - L).attr('height', B - T);
var plot = svg.append('g').attr('clip-path', 'url(#clip)');

var ms = 2.2;
function drawPts(pts, color){
    plot.append('g').selectAll('rect')
        .data(pts)
        .enter().append('rect')
        .attr('x', d => x(d[0]) - ms/2)
        .attr('y', d => y(d[1]) - ms/2)
        .attr('width', ms).attr('height', ms)
        .attr('fill', color);
}
drawPts(bluePts, '#0000ff');
drawPts(greenPts, '#00e000');
drawPts(redPts, '#ff0000');

var line = d3.line().x(d => x(d[0])).y(d => y(d[1])).curve(d3.curveMonotoneX);
plot.append('path')
    .datum(fermiMass.map((m, i) => [m, fermiSv[i]]))
    .attr('d', line)
    .attr('fill', 'none')
    .attr('stroke', '#a3a300')
    .attr('stroke-width', 1.7);

// frame and ticks (all pointing inward)
svg.append('rect').attr('x', L).attr('y', T).attr('width', R - L).attr('height', B - T)
    .attr('fill', 'none').attr('stroke', '#444').attr('stroke-width', 1);

var yMinor = [];
yMajor.forEach(function(v){ for (var k = 2; k <= 9; k++) if (v*k <= 2.1e-24) yMinor.push(v*k); });

function ticks(axis, vals, size, tr){
    svg.append('g').attr('transform', tr)
        .call(axis.tickValues(vals).tickSize(size).tickSizeOuter(0).tickFormat(''))
        .call(g => g.select('.domain').remove())
        .selectAll('line').attr('stroke', '#222').attr('stroke-width', 1);
}
ticks(d3.axisBottom(x), xMinor, -3, 'translate(0,' + B + ')');
ticks(d3.axisBottom(x), xMajor, -6, 'translate(0,' + B + ')');
ticks(d3.axisTop(x), xMinor, -3, 'translate(0,' + T + ')');
ticks(d3.axisTop(x), xMajor, -6, 'translate(0,' + T + ')');
ticks(d3.axisLeft(y), yMinor, -6, 'translate(' + L + ',0)');
ticks(d3.axisLeft(y), yMajor, -10, 'translate(' + L + ',0)');
ticks(d3.axisRight(y), yMinor, -5, 'translate(' + R + ',0)');
ticks(d3.axisRight(y), yMajor, -10, 'translate(' + R + ',0)');

svg.append('line').attr('x1', L).attr('x2', R).attr('y1', B).attr('y2', B)
    .attr('stroke', '#000').attr('stroke-width', 1.6);
svg.append('line').attr('x1', L).attr('x2', L).attr('y1', T).attr('y2', B)
    .attr('stroke', '#111').attr('stroke-width', 1.2);

// tick labels
yMajor.forEach(function(v, i){
    var t = svg.append('text').attr('x', 41.5).attr('y', y(v) + 4)
        .attr('text-anchor', 'end').attr('font-size', 10).attr('font-weight', 'bold');
    t.append('tspan').text('10');
    t.append('tspan').attr('font-size', 6.5).attr('dy', -4.5).text(yExp[i]);
});
xMajor.forEach(function(v, i){
    var t = svg.append('text').attr('x', x(v)).attr('y', 286)
        .attr('text-anchor', 'middle').attr('font-size', 10).attr('font-weight', 'bold');
    t.append('tspan').text('10');
    t.append('tspan').attr('font-size', 6.5).attr('dy', -4.5).text(xExp[i]);
});

// axis titles
var xt = svg.append('text').attr('x', (L + R)/2).attr('y', 293.5)
    .attr('text-anchor', 'middle').attr('font-size', 10).attr('font-weight', 'bold');
xt.append('tspan').text('m');
xt.append('tspan').attr('font-size', 6).attr('dy', 2).text('LSP');
xt.append('tspan').attr('dy', -2).text(' (GeV)');

var yt = svg.append('text').attr('transform', 'translate(18,127) rotate(-90)')
    .attr('text-anchor', 'middle').attr('font-size', 9).attr('font-weight', 'bold');
yt.append('tspan').text('\u03be');
yt.append('tspan').attr('font-size', 6).attr('dy', -4).text('2');
yt.append('tspan').attr('dy', 4).text(' \u03c3v');
yt.append('tspan').attr('font-size', 5).attr('dy', -4).attr('font-weight', 'normal').text('LSP LSP \u2192 b b\u0304');
yt.append('tspan').attr('dy', 4).text(' (cm');
yt.append('tspan').attr('font-size', 6).attr('dy', -4).text('3');
yt.append('tspan').attr('dy', 4).text('/s)');

// legend texts
function snu(sel){
    sel.append('tspan').text('\u03bd\u0303');
    sel.append('tspan').attr('font-size', 6.5).attr('dy', 2.5).text('R');
    sel.append('tspan').attr('dy', -2.5).text(' LSP');
}
var g1 = svg.append('text').attr('x', 112).attr('y', 56.5).attr('fill', '#00d000')
    .attr('font-size', 10).attr('font-weight', 'bold');
snu(g1);
var r1 = svg.append('text').attr('x', 145).attr('y', 67.5).attr('fill', '#ff0000')
    .attr('font-size', 10).attr('font-weight', 'bold');
snu(r1);
r1.append('tspan').text(' excl. by LUX');
var b1 = svg.append('text').attr('x', 112).attr('y', 88).attr('fill', '#0000ff')
    .attr('font-size', 10).attr('font-weight', 'bold');
b1.append('tspan').text('\u03c7\u0303');
b1.append('tspan').attr('font-size', 6.5).attr('dy', -4).text('0');
b1.append('tspan').attr('font-size', 6.5).attr('dx', -3.6).attr('dy', 7).text('1');
b1.append('tspan').attr('dy', -3).text(' LSP');

svg.append('text').attr('transform', 'translate(267,86) rotate(-14)')
    .attr('font-size', 7.5).attr('fill', '#a3a300')
    .attr('textLength', 119)
    .text('Fermi-LAT Combined dSphs (2015)');
</script>
</body>
</html>
